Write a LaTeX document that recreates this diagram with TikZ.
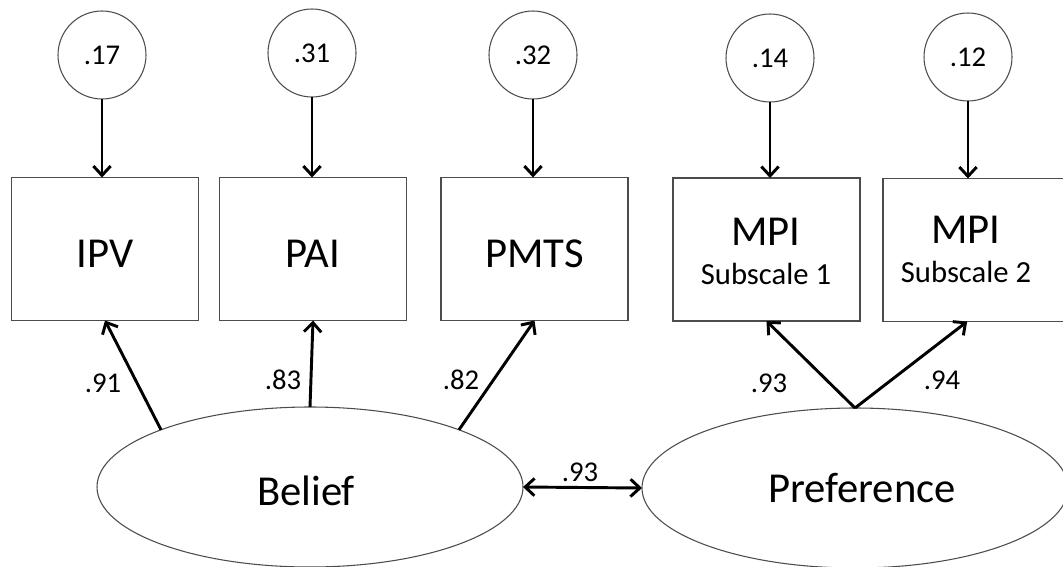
\documentclass[tikz,border=0pt]{standalone}
\usepackage{fontspec}
\setmainfont{Carlito}
\usetikzlibrary{arrows.meta,shapes.geometric}
\begin{document}
\begin{tikzpicture}[x=0.75pt,y=-0.75pt,
  frame/.style={draw=black!70, line width=0.8pt, inner sep=0pt, outer sep=0pt},
  errc/.style={frame, circle, minimum size=66pt, font=\fontsize{21.5}{26}\selectfont},
  indic/.style={frame, rectangle, minimum width=140.25pt, minimum height=107.25pt},
  latent/.style={frame, ellipse, minimum width=319.5pt, minimum height=120pt},
  big/.style={font=\fontsize{32}{38}\selectfont, inner sep=0pt, anchor=base},
  small/.style={font=\fontsize{23}{28}\selectfont, inner sep=0pt, anchor=base},
  coef/.style={font=\fontsize{21.5}{26}\selectfont, inner sep=0pt},
  barb/.tip={Straight Barb[length=7pt,width=13pt]},
  load/.style={line width=2.2pt, -barb},
  cov/.style={line width=2.2pt, barb-barb}
]
\useasboundingbox (0,0) rectangle (1063,567);

% observed indicators
\node[indic] (ipv)  at (105,249)   {};
\node[indic] (pai)  at (313,249)   {};
\node[indic] (pmts) at (534.5,249) {};
\node[indic] (mpi1) at (766.5,249.5) {};
\node[indic] (mpi2) at (976.5,250) {};

\node[big] (ipvt)  at (105,267)   {IPV};
\node[big] (pait)  at (313,267)   {PAI};
\node[big] (pmtst) at (534.5,267) {PMTS};
\node[big]   (mpia)  at (766,245) {MPI};
\node[small] (mpias) at (766,284) {Subscale 1};
\node[big]   (mpib)  at (966,243) {MPI};
\node[small] (mpibs) at (966,282) {Subscale 2};

% error terms
\node[errc] (e1) at (102,55) {.17};
\node[errc] (e2) at (312,53) {.31};
\node[errc] (e3) at (533,55) {.32};
\node[errc] (e4) at (770,58) {.14};
\node[errc] (e5) at (968,57) {.12};

\foreach \e/\b in {e1/ipv,e2/pai,e3/pmts,e4/mpi1,e5/mpi2}
  \draw[load] (\e.south) -- (\e.south |- \b.north);

% latent factors
\node[latent] (belief) at (310,487) {};
\node[latent] (pref)   at (855,488) {};
\node[big] (belieft) at (306,505) {Belief};
\node[big] (preft)   at (862,502) {Preference};

% loadings
\draw[load] (belief.159) -- (ipv.south);
\draw[load] (belief.north) -- (pai.south);
\draw[load] (belief.21) -- (pmts.south);
\draw[load] (pref.north) -- (mpi1.south);
\draw[load] (pref.north) -- ([xshift=-7pt]mpi2.south);

% factor covariance
\draw[cov] (belief.east) -- (pref.west);

\node[coef] (l1) at (103,383) {.91};
\node[coef] (l2) at (283,380) {.83};
\node[coef] (l3) at (461,380) {.82};
\node[coef] (l4) at (769,383) {.93};
\node[coef] (l5) at (942,380) {.94};
\node[coef] (r1) at (580,472) {.93};
\end{tikzpicture}
\end{document}
